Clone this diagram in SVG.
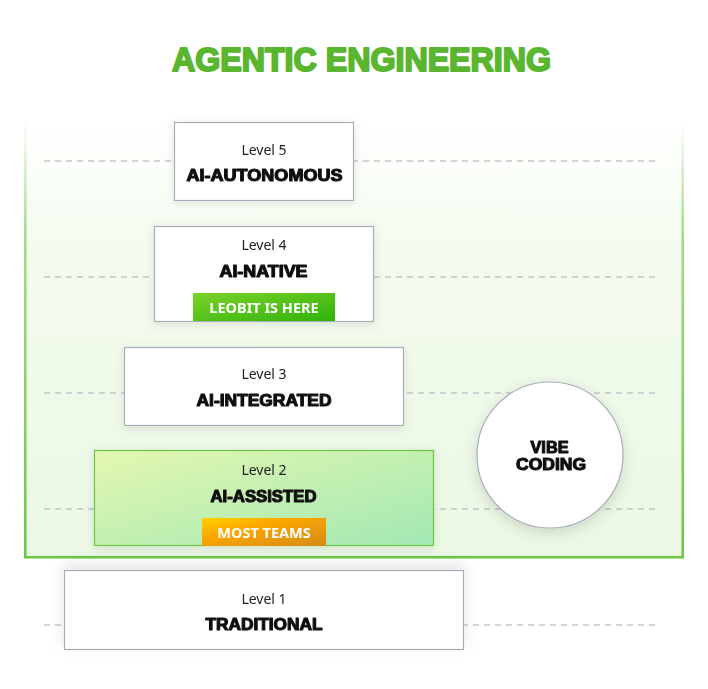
<svg xmlns="http://www.w3.org/2000/svg" width="708" height="689" viewBox="0 0 708 689">
<defs>
<style>
.lvl{font-family:"Noto Sans","Liberation Sans",sans-serif;font-size:14px;fill:#222;text-anchor:middle}
.ttl{font-family:"Liberation Sans","DejaVu Sans",sans-serif;font-size:16px;font-weight:900;fill:#111;stroke:#111;stroke-width:1.1;stroke-linejoin:round;text-anchor:middle}
.badge{font-family:"Noto Sans","Liberation Sans",sans-serif;font-size:14.5px;font-weight:700;fill:#fff;text-anchor:middle}
.box{fill:#fff;stroke:#a9abb8;stroke-width:1.2}
.dash{stroke:#a9abb8;stroke-width:1;stroke-dasharray:6 5;fill:none}
</style>
<linearGradient id="area" x1="0" y1="0" x2="0" y2="1">
<stop offset="0" stop-color="#ffffff"/>
<stop offset="0.3" stop-color="#f3fbee"/>
<stop offset="1" stop-color="#ebf8e4"/>
</linearGradient>
<linearGradient id="side" x1="0" y1="0" x2="0" y2="1">
<stop offset="0" stop-color="#6cc644" stop-opacity="0"/>
<stop offset="0.25" stop-color="#6cc644" stop-opacity="0.6"/>
<stop offset="1" stop-color="#6cc644"/>
</linearGradient>
<linearGradient id="l2" x1="0" y1="0" x2="1" y2="1">
<stop offset="0" stop-color="#e4f7b0"/>
<stop offset="1" stop-color="#a2e8b4"/>
</linearGradient>
<linearGradient id="leo" x1="0" y1="0" x2="1" y2="1">
<stop offset="0" stop-color="#7cd22a"/>
<stop offset="1" stop-color="#2fb30a"/>
</linearGradient>
<linearGradient id="most" x1="0" y1="0" x2="1" y2="1">
<stop offset="0" stop-color="#ffd200"/>
<stop offset="0.35" stop-color="#fca800"/>
<stop offset="1" stop-color="#d48a18"/>
</linearGradient>
<filter id="sh" x="-20%" y="-40%" width="140%" height="180%">
<feDropShadow dx="0" dy="2" stdDeviation="5" flood-color="#000" flood-opacity="0.10"/>
</filter>
<filter id="sh1" x="-20%" y="-60%" width="140%" height="200%">
<feDropShadow dx="0" dy="-6" stdDeviation="8" flood-color="#000" flood-opacity="0.10"/>
</filter>
<filter id="shc" x="-30%" y="-30%" width="160%" height="160%">
<feDropShadow dx="0" dy="4" stdDeviation="7" flood-color="#000" flood-opacity="0.14"/>
</filter>
</defs>

<rect width="708" height="689" fill="#fff"/>

<g id="title">
<text x="361.5" y="71" font-family="Liberation Sans, DejaVu Sans, sans-serif" font-size="33.5" font-weight="900" fill="#5ab52f" stroke="#5ab52f" stroke-width="2" stroke-linejoin="round" text-anchor="middle" textLength="379" lengthAdjust="spacingAndGlyphs">AGENTIC ENGINEERING</text>
</g>

<g id="agentic-area">
<rect x="25" y="120" width="658" height="437" fill="url(#area)"/>
<rect x="24" y="120" width="2.5" height="438" fill="url(#side)"/>
<rect x="681.5" y="120" width="2.5" height="438" fill="url(#side)"/>
<rect x="24" y="556" width="660" height="2.5" fill="#6cc644"/>
</g>

<g id="connectors">
<line class="dash" x1="44" y1="161" x2="656" y2="161"/>
<line class="dash" x1="44" y1="277" x2="656" y2="277"/>
<line class="dash" x1="44" y1="393" x2="656" y2="393"/>
<line class="dash" x1="44" y1="509" x2="656" y2="509"/>
<line class="dash" x1="44" y1="625" x2="656" y2="625"/>
</g>

<g id="level5" filter="url(#sh)">
<rect class="box" x="174.5" y="122.5" width="179" height="78"/>
<text class="lvl" x="264" y="154.5">Level 5</text>
<text class="ttl" x="264.5" y="181" textLength="156" lengthAdjust="spacingAndGlyphs">AI-AUTONOMOUS</text>
</g>

<g id="level4" filter="url(#sh)">
<rect class="box" x="154.5" y="226.5" width="219" height="95"/>
<text class="lvl" x="264" y="250">Level 4</text>
<text class="ttl" x="263.5" y="277" textLength="88" lengthAdjust="spacingAndGlyphs">AI-NATIVE</text>
<rect x="193" y="293" width="142" height="28" fill="url(#leo)"/>
<text class="badge" x="264" y="312.5">LEOBIT IS HERE</text>
</g>

<g id="level3" filter="url(#sh)">
<rect class="box" x="124.5" y="347.5" width="279" height="78"/>
<text class="lvl" x="264" y="379">Level 3</text>
<text class="ttl" x="264" y="406" textLength="135" lengthAdjust="spacingAndGlyphs">AI-INTEGRATED</text>
</g>

<g id="vibe-coding" filter="url(#shc)">
<circle cx="550" cy="455" r="73" fill="#fff" stroke="#a9abb8" stroke-width="1.2"/>
<text class="ttl" x="549.5" y="453" textLength="38" lengthAdjust="spacingAndGlyphs">VIBE</text>
<text class="ttl" x="551" y="470" textLength="70" lengthAdjust="spacingAndGlyphs">CODING</text>
</g>

<g id="level2" filter="url(#sh)">
<rect x="94.5" y="450.5" width="339" height="95" fill="url(#l2)" stroke="#6cc644" stroke-width="1.2"/>
<text class="lvl" x="264" y="475">Level 2</text>
<text class="ttl" x="263.5" y="502" textLength="106" lengthAdjust="spacingAndGlyphs">AI-ASSISTED</text>
<rect x="202" y="518" width="124" height="28" fill="url(#most)"/>
<text class="badge" x="264" y="537.5">MOST TEAMS</text>
</g>

<g id="level1" filter="url(#sh1)">
<rect class="box" x="64.5" y="570.5" width="399" height="79"/>
<text class="lvl" x="264" y="604">Level 1</text>
<text class="ttl" x="264" y="630" textLength="117" lengthAdjust="spacingAndGlyphs">TRADITIONAL</text>
</g>
</svg>
